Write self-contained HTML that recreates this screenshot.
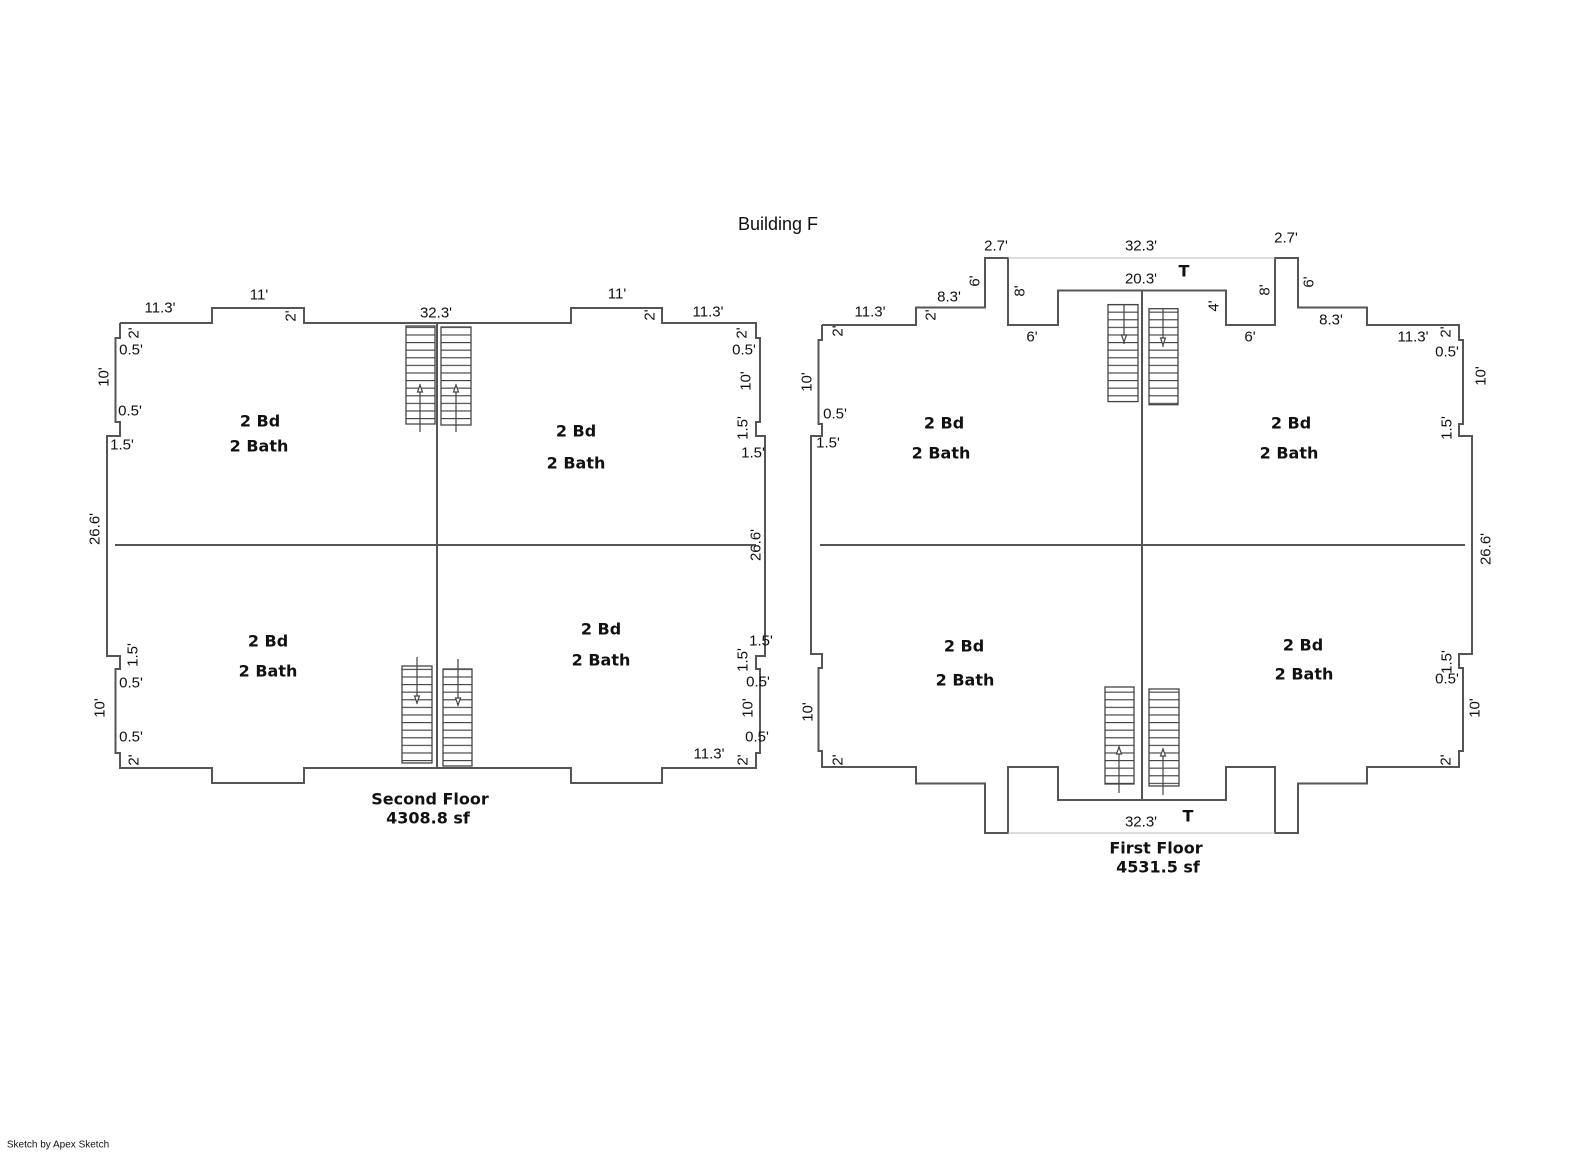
<!DOCTYPE html>
<html><head><meta charset="utf-8"><style>
html,body{margin:0;padding:0;background:#fff;}
svg{display:block;}
text{font-family:"Liberation Sans",sans-serif;fill:#111;}
.d{font-size:15px;}
.b{font-size:16px;font-weight:bold;font-family:"DejaVu Sans",sans-serif;}
</style></head><body>
<svg width="1585" height="1163" viewBox="0 0 1585 1163" xmlns="http://www.w3.org/2000/svg">
<defs>
<pattern id="tr" patternUnits="userSpaceOnUse" width="10" height="7.6" y="0">
<line x1="0" y1="0.5" x2="10" y2="0.5" stroke="#444" stroke-width="1.3"/>
</pattern>
</defs>
<g fill="none" stroke="#555" stroke-width="2">
<polyline points="120,323 212,323 212,308 304,308 304,323 571,323 571,308 662,308 662,323 756,323 756,338 760,338 760,422 756,422 756,436 765,436 765,656 756,656 756,669 760,669 760,753 756,753 756,768 662,768 662,783 571,783 571,768 304,768 304,783 212,783 212,768 120,768 120,753 115.5,753 115.5,669 120,669 120,656 107,656 107,436 120,436 120,422 115.5,422 115.5,338 120,338 120,323"/>
<line x1="437" y1="323" x2="437" y2="768"/>
<line x1="115" y1="545" x2="756" y2="545"/>
<polyline points="822,325 916,325 916,307.5 985,307.5 985,258 1008,258 1008,325 1058,325 1058,290.5 1226,290.5 1226,325 1275,325 1275,258 1298,258 1298,307.5 1367,307.5 1367,325 1459,325 1459,340 1463,340 1463,424 1459,424 1459,436 1472,436 1472,654 1459,654 1459,668 1463,668 1463,751 1459,751 1459,767 1367,767 1367,783.5 1298,783.5 1298,833 1275,833 1275,767 1226,767 1226,800 1058,800 1058,767 1008,767 1008,833 985,833 985,783.5 916,783.5 916,767 822,767 822,751 818.5,751 818.5,668 822,668 822,654 811,654 811,436 822,436 822,424 818.5,424 818.5,340 822,340 822,325"/>
<line x1="1142" y1="290.5" x2="1142" y2="800"/>
<line x1="820" y1="545" x2="1465" y2="545"/>
</g>
<g stroke="#bbb" stroke-width="1">
<line x1="1008" y1="258" x2="1275" y2="258"/>
<line x1="1008" y1="833" x2="1275" y2="833"/>
</g>
<g stroke="#444" stroke-width="1.3" fill="url(#tr)">
<rect x="406" y="326" width="29" height="98"/>
<rect x="441" y="327" width="30" height="98"/>
<rect x="402" y="666" width="30" height="97"/>
<rect x="443" y="669" width="29" height="97"/>
<rect x="1108" y="304.6" width="30" height="97"/>
<rect x="1149" y="308.7" width="29" height="96"/>
<rect x="1105" y="687" width="29" height="97"/>
<rect x="1149" y="689" width="30" height="97"/>
</g>
<g stroke="#444" stroke-width="1.2" fill="#fff">
<line x1="420" y1="384" x2="420" y2="432"/><polygon points="417.5,392 422.5,392 420,385"/>
<line x1="456" y1="384" x2="456" y2="432"/><polygon points="453.5,392 458.5,392 456,385"/>
<line x1="417" y1="657" x2="417" y2="704"/><polygon points="414.5,696 419.5,696 417,703"/>
<line x1="458" y1="659" x2="458" y2="706"/><polygon points="455.5,698 460.5,698 458,705"/>
<line x1="1124" y1="304" x2="1124" y2="344"/><polygon points="1121.5,335 1126.5,335 1124,342"/>
<line x1="1163" y1="308" x2="1163" y2="347"/><polygon points="1160.5,338 1165.5,338 1163,345"/>
<line x1="1119" y1="746" x2="1119" y2="793"/><polygon points="1116.5,754 1121.5,754 1119,747"/>
<line x1="1163" y1="748" x2="1163" y2="795"/><polygon points="1160.5,756 1165.5,756 1163,749"/>
</g>
<g text-anchor="middle" dominant-baseline="central">
<text x="778" y="224" style="font-size:18px">Building F</text>
<text x="58" y="1145" style="font-size:10px">Sketch by Apex Sketch</text>
<text class="b" x="260" y="421">2 Bd</text><text class="b" x="259" y="446">2 Bath</text>
<text class="b" x="576" y="431">2 Bd</text><text class="b" x="576" y="463">2 Bath</text>
<text class="b" x="268" y="641">2 Bd</text><text class="b" x="268" y="671">2 Bath</text>
<text class="b" x="601" y="629">2 Bd</text><text class="b" x="601" y="660">2 Bath</text>
<text class="b" x="430" y="799">Second Floor</text><text class="b" x="428" y="818">4308.8 sf</text>
<text class="d" x="160" y="308">11.3'</text>
<text class="d" x="259" y="295">11'</text>
<text class="d" x="436" y="313">32.3'</text>
<text class="d" x="617" y="294">11'</text>
<text class="d" x="708" y="312">11.3'</text>
<text class="d" x="131" y="350">0.5'</text>
<text class="d" x="130" y="411">0.5'</text>
<text class="d" x="122" y="445">1.5'</text>
<text class="d" x="744" y="350">0.5'</text>
<text class="d" x="753" y="453">1.5'</text>
<text class="d" x="131" y="683">0.5'</text>
<text class="d" x="131" y="737">0.5'</text>
<text class="d" x="761" y="641">1.5'</text>
<text class="d" x="758" y="682">0.5'</text>
<text class="d" x="757" y="737">0.5'</text>
<text class="d" x="709" y="754">11.3'</text>
<text class="d" transform="translate(291,316) rotate(-90)">2'</text>
<text class="d" transform="translate(650,315) rotate(-90)">2'</text>
<text class="d" transform="translate(134,333) rotate(-90)">2'</text>
<text class="d" transform="translate(104,377) rotate(-90)">10'</text>
<text class="d" transform="translate(95,529) rotate(-90)">26.6'</text>
<text class="d" transform="translate(742,333) rotate(-90)">2'</text>
<text class="d" transform="translate(746,381) rotate(-90)">10'</text>
<text class="d" transform="translate(743,428) rotate(-90)">1.5'</text>
<text class="d" transform="translate(756,545) rotate(-90)">26.6'</text>
<text class="d" transform="translate(133,655) rotate(-90)">1.5'</text>
<text class="d" transform="translate(100,708) rotate(-90)">10'</text>
<text class="d" transform="translate(134,760) rotate(-90)">2'</text>
<text class="d" transform="translate(743,660) rotate(-90)">1.5'</text>
<text class="d" transform="translate(748,708) rotate(-90)">10'</text>
<text class="d" transform="translate(743,760) rotate(-90)">2'</text>
<text class="b" x="944" y="423">2 Bd</text><text class="b" x="941" y="453">2 Bath</text>
<text class="b" x="1291" y="423">2 Bd</text><text class="b" x="1289" y="453">2 Bath</text>
<text class="b" x="964" y="646">2 Bd</text><text class="b" x="965" y="680">2 Bath</text>
<text class="b" x="1303" y="645">2 Bd</text><text class="b" x="1304" y="674">2 Bath</text>
<text class="b" x="1156" y="848">First Floor</text><text class="b" x="1158" y="867">4531.5 sf</text>
<text class="b" x="1184" y="271">T</text>
<text class="b" x="1188" y="816">T</text>
<text class="d" x="996" y="246">2.7'</text>
<text class="d" x="1141" y="246">32.3'</text>
<text class="d" x="1286" y="238">2.7'</text>
<text class="d" x="1141" y="279">20.3'</text>
<text class="d" x="949" y="297">8.3'</text>
<text class="d" x="870" y="312">11.3'</text>
<text class="d" x="1032" y="337">6'</text>
<text class="d" x="1331" y="320">8.3'</text>
<text class="d" x="1250" y="337">6'</text>
<text class="d" x="1413" y="337">11.3'</text>
<text class="d" x="1447" y="352">0.5'</text>
<text class="d" x="835" y="414">0.5'</text>
<text class="d" x="828" y="443">1.5'</text>
<text class="d" x="1447" y="679">0.5'</text>
<text class="d" x="1141" y="822">32.3'</text>
<text class="d" transform="translate(975,281) rotate(-90)">6'</text>
<text class="d" transform="translate(1020,291) rotate(-90)">8'</text>
<text class="d" transform="translate(931,315) rotate(-90)">2'</text>
<text class="d" transform="translate(838,331) rotate(-90)">2'</text>
<text class="d" transform="translate(1214,306) rotate(-90)">4'</text>
<text class="d" transform="translate(1265,290) rotate(-90)">8'</text>
<text class="d" transform="translate(1309,282) rotate(-90)">6'</text>
<text class="d" transform="translate(1446,332) rotate(-90)">2'</text>
<text class="d" transform="translate(807,382) rotate(-90)">10'</text>
<text class="d" transform="translate(1481,376) rotate(-90)">10'</text>
<text class="d" transform="translate(1447,428) rotate(-90)">1.5'</text>
<text class="d" transform="translate(1486,549) rotate(-90)">26.6'</text>
<text class="d" transform="translate(1447,662) rotate(-90)">1.5'</text>
<text class="d" transform="translate(808,712) rotate(-90)">10'</text>
<text class="d" transform="translate(1475,708) rotate(-90)">10'</text>
<text class="d" transform="translate(838,760) rotate(-90)">2'</text>
<text class="d" transform="translate(1446,760) rotate(-90)">2'</text>
</g>
</svg>
</body></html>
